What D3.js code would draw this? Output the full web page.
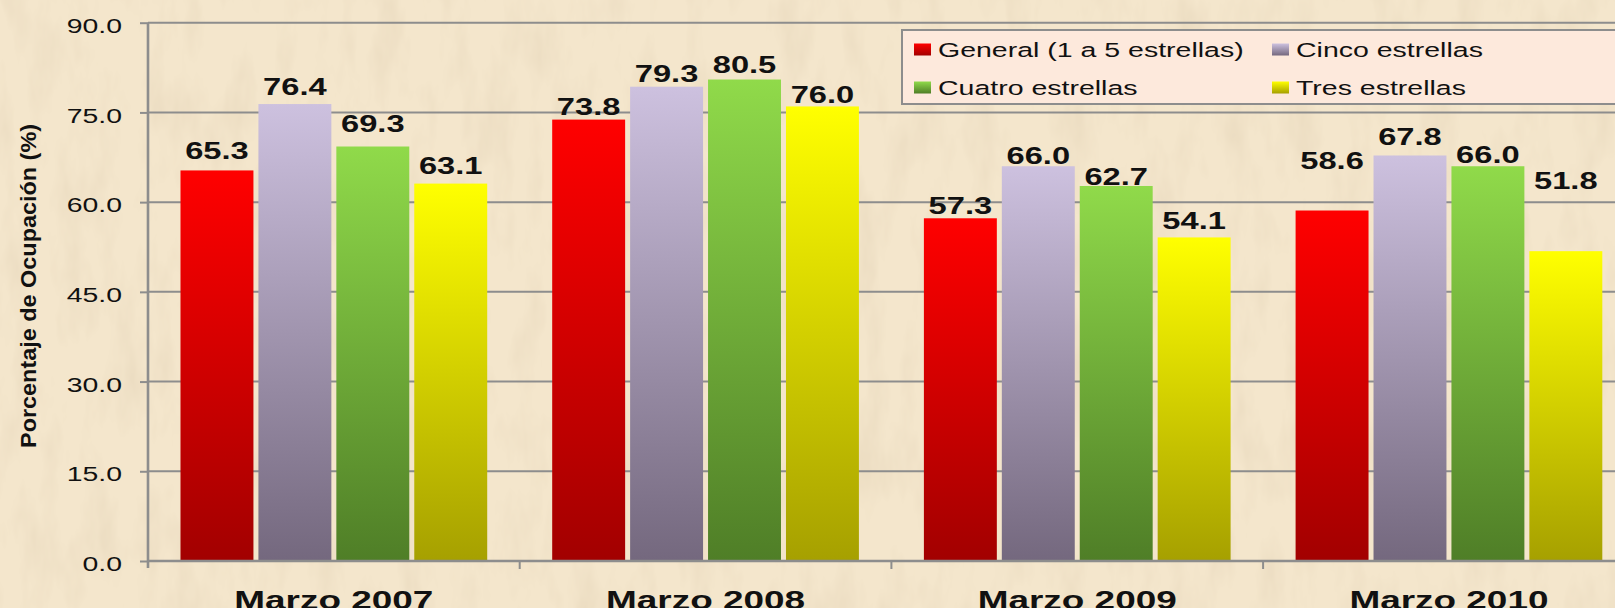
<!DOCTYPE html>
<html>
<head>
<meta charset="utf-8">
<script src="https://cdn.jsdelivr.net/npm/d3@7"></script>
<style>
  html, body { margin: 0; padding: 0; background: #f4e6cc; overflow: hidden; }
  svg { display: block; font-family: "Liberation Sans", Arial, sans-serif; }
</style>
</head>
<body>
<svg id="chart"></svg>
<script>
const categories = ["Marzo 2007", "Marzo 2008", "Marzo 2009", "Marzo 2010"];
const seriesNames = ["General (1 a 5 estrellas)", "Cinco estrellas", "Cuatro estrellas", "Tres estrellas"];
const general = [65.3, 73.8, 57.3, 58.6];
const cinco = [76.4, 79.3, 66.0, 67.8];
const cuatro = [69.3, 80.5, 62.7, 66.0];
const tres = [63.1, 76.0, 54.1, 51.8];
const yTicks = [0, 15, 30, 45, 60, 75, 90];

// colours per series: [top, bottom] of the bar gradient
const palette = [["#ff0000", "#a20000"], ["#cdc1df", "#74687e"], ["#90da4a", "#4f7e27"], ["#ffff00", "#a6a000"]];
// labels in the original were nudged by hand, px from bar top to baseline
const liftGeneral = [11.7, 4.7, 4, 42];
const liftCinco = [8.7, 4.3, 2, 10];
const liftCuatro = [14.3, 6.6, 1, 3.6];
const liftTres = [10, 3.3, 8, 62];

const W = 1615, H = 608;
const SX = 1.42; // original picture was stretched sideways
const margin = { top: 22.7, left: 148, bottom: 47 };

const series = seriesNames.map((name, i) => ({
  name, i,
  values: [general, cinco, cuatro, tres][i],
  lift: [liftGeneral, liftCinco, liftCuatro, liftTres][i]
}));

const svg = d3.select("#chart").attr("width", W).attr("height", H);
const defs = svg.append("defs");

// paper texture
const f = defs.append("filter").attr("id", "paper").attr("x", 0).attr("y", 0).attr("width", 1).attr("height", 1);
f.append("feTurbulence").attr("type", "fractalNoise").attr("baseFrequency", "0.035 0.012").attr("numOctaves", 4).attr("seed", 7);
f.append("feColorMatrix").attr("type", "matrix")
  .attr("values", "0 0 0 0 0.62  0 0 0 0 0.50  0 0 0 0 0.34  0 0 0 0.45 -0.2");

palette.forEach((c, i) => {
  const g = defs.append("linearGradient").attr("id", "grad" + i)
    .attr("x1", 0).attr("y1", 0).attr("x2", 0).attr("y2", 1);
  g.append("stop").attr("offset", "0%").attr("stop-color", c[0]);
  g.append("stop").attr("offset", "100%").attr("stop-color", c[1]);
});

svg.append("rect").attr("width", W).attr("height", H).attr("fill", "#f4e6cc");
svg.append("rect").attr("width", W).attr("height", H).attr("filter", "url(#paper)");

const x = d3.scaleBand().domain(categories).range([margin.left, margin.left + 4 * 371.7]);
const x1 = d3.scaleBand().domain(d3.range(4)).range([0, x.bandwidth()])
  .paddingInner(0.064).paddingOuter(0.417);
const y = d3.scaleLinear().domain([0, 90]).range([H - margin.bottom, margin.top]);

function stretch(sel, k = SX) {
  sel.each(function () {
    const w = this.getComputedTextLength();
    d3.select(this).attr("textLength", w * k).attr("lengthAdjust", "spacingAndGlyphs");
  });
}

const grey = "#8d8d8d";

// gridlines
svg.append("g").selectAll("line").data(yTicks.filter(d => d > 0)).join("line")
  .attr("x1", margin.left).attr("x2", W)
  .attr("y1", d => y(d)).attr("y2", d => y(d))
  .attr("stroke", grey).attr("stroke-width", 2);

// y axis
const yAxis = svg.append("g").attr("transform", `translate(${margin.left},0)`)
  .call(d3.axisLeft(y).tickValues(yTicks).tickFormat(d3.format(".1f")).tickSize(8).tickPadding(18));
yAxis.select(".domain").attr("stroke", grey).attr("stroke-width", 2.6)
  .attr("d", `M0,${y(90)}V${y(0) + 7}`);
yAxis.selectAll(".tick line").attr("stroke", grey).attr("stroke-width", 2);
yAxis.selectAll(".tick text").attr("font-size", 20).attr("fill", "#111")
  .attr("font-family", "Liberation Sans, Arial, sans-serif")
  .attr("dy", "0.48em").call(stretch);

// bars
const groups = svg.append("g").selectAll("g").data(series).join("g");
groups.selectAll("rect").data(s => s.values.map((v, j) => ({ v, j, s }))).join("rect")
  .attr("x", d => x(categories[d.j]) + x1(d.s.i))
  .attr("width", x1.bandwidth())
  .attr("y", d => y(d.v))
  .attr("height", d => y(0) - y(d.v))
  .attr("fill", d => `url(#grad${d.s.i})`);

// value labels
groups.selectAll("text").data(s => s.values.map((v, j) => ({ v, j, s }))).join("text")
  .attr("x", d => x(categories[d.j]) + x1(d.s.i) + x1.bandwidth() / 2)
  .attr("y", d => y(d.v) - d.s.lift[d.j])
  .attr("text-anchor", "middle")
  .attr("font-size", 23).attr("font-weight", "bold").attr("fill", "#111")
  .text(d => d.v.toFixed(1))
  .call(stretch);

// x axis
const xAxis = svg.append("g").attr("transform", `translate(0,${y(0)})`);
xAxis.append("line").attr("x1", margin.left).attr("x2", W).attr("stroke", grey).attr("stroke-width", 2.6);
xAxis.selectAll("line.tick").data(categories.slice(1)).join("line").attr("class", "tick")
  .attr("x1", d => x(d)).attr("x2", d => x(d)).attr("y1", 0).attr("y2", 8)
  .attr("stroke", grey).attr("stroke-width", 2);
xAxis.selectAll("text").data(categories).join("text")
  .attr("x", d => x(d) + x.bandwidth() / 2).attr("y", 48)
  .attr("text-anchor", "middle").attr("font-size", 26).attr("font-weight", "bold").attr("fill", "#111")
  .text(d => d)
  .call(stretch);

// y title
svg.append("text")
  .attr("transform", "translate(36,286) rotate(-90)")
  .attr("text-anchor", "middle").attr("font-size", 22).attr("font-weight", "bold").attr("fill", "#111")
  .text("Porcentaje de Ocupación (%)")
  .attr("textLength", 324).attr("lengthAdjust", "spacingAndGlyphs");

// legend
const legend = svg.append("g").attr("transform", "translate(902,30)");
legend.append("rect").attr("width", 760).attr("height", 74)
  .attr("fill", "#fde9dc").attr("stroke", grey).attr("stroke-width", 2);
const items = legend.selectAll("g").data(series).join("g")
  .attr("transform", d => `translate(${d.i % 2 ? 370 : 12},${d.i < 2 ? 13.5 : 51.5})`);
items.append("rect").attr("width", 17).attr("height", 12).attr("fill", d => `url(#grad${d.i})`);
items.append("text").attr("x", 24).attr("y", 13.8)
  .attr("font-size", 20.5).attr("fill", "#111")
  .text(d => d.name)
  .call(stretch, 1.39);
</script>
</body>
</html>
